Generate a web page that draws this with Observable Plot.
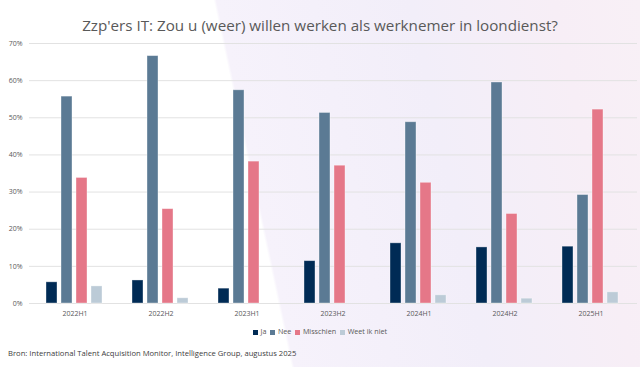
<!DOCTYPE html>
<html>
<head>
<meta charset="utf-8">
<script src="https://cdn.jsdelivr.net/npm/d3@7"></script>
<script src="https://cdn.jsdelivr.net/npm/@observablehq/plot@0.6"></script>
<style>
  html, body { margin: 0; padding: 0; }
  body {
    width: 640px; height: 367px; position: relative; overflow: hidden;
    background: linear-gradient(78deg, #ffffff 0%, #ffffff 40.6%, #f6f2fb 41%, #f2eef9 68%, #f7eef6 88%, #f8f0f6 100%);
    font-family: "Open Sans", sans-serif;
  }
  #title { position: absolute; top: 14px; left: 0; width: 640px; text-align: center;
    font-size: 15.2px; line-height: 22px; color: #595959; }
  #grid, #chart { position: absolute; top: 36px; left: 0; }
  #legend { position: absolute; top: 325px; left: 0; width: 640px; text-align: center;
    font-size: 7.2px; line-height: 12px; color: #595959; }
  #legend span.item { margin: 0 2px; }
  #legend span.sw { display: inline-block; width: 5px; height: 5px; margin-right: 2.5px; vertical-align: -0.5px; }
  #source { position: absolute; top: 347px; left: 8px; font-size: 7.65px; line-height: 12px; color: #404040; }
</style>
</head>
<body>
<div id="title">Zzp'ers IT: Zou u (weer) willen werken als werknemer in loondienst?</div>
<div id="grid"></div>
<div id="chart"></div>
<div id="legend"></div>
<div id="source">Bron: International Talent Acquisition Monitor, Intelligence Group, augustus 2025</div>
<script>
const periods = ["2022H1", "2022H2", "2023H1", "2023H2", "2024H1", "2024H2", "2025H1"];
const answers = ["Ja", "Nee", "Misschien", "Weet ik niet"];
const ja = [5.7, 6.2, 4.0, 11.4, 16.2, 15.1, 15.3];
const nee = [55.7, 66.6, 57.4, 51.3, 48.8, 59.5, 29.2];
const misschien = [33.8, 25.4, 38.2, 37.1, 32.5, 24.1, 52.2];
const weetIkNiet = [4.6, 1.4, null, null, 2.2, 1.3, 3.0];
const colors = ["#002b55", "#5b7a94", "#e57788", "#bccbd7"];
const yTicks = [0, 10, 20, 30, 40, 50, 60, 70];

const series = [ja, nee, misschien, weetIkNiet];
const data = periods.flatMap((p, i) =>
  answers.map((a, j) => ({ period: p, answer: a, value: series[j][i] }))
).filter(d => d.value != null);

const common = {
  width: 640,
  height: 286,
  marginTop: 7,
  marginBottom: 19,
  marginLeft: 29,
  marginRight: 3,
  style: { background: "transparent", fontFamily: "Open Sans, sans-serif", fontSize: "7px", color: "#595959" }
};

// gridlines + y axis (continuous across the whole plot width)
const grid = Plot.plot({
  ...common,
  y: { domain: [0, 70], ticks: yTicks, tickFormat: d => d + "%", tickSize: 0, tickPadding: 7, label: null },
  marks: [
    Plot.ruleY(yTicks, { stroke: "#e2e2e2", strokeWidth: 1 })
  ]
});
document.getElementById("grid").appendChild(grid);

// grouped bars
const chart = Plot.plot({
  ...common,
  fx: { domain: periods, paddingInner: 0.31, paddingOuter: 0.153, label: null, tickSize: 0, tickPadding: 8, axis: "bottom" },
  x: { domain: answers, paddingInner: 0.25, paddingOuter: 0, axis: null },
  y: { domain: [0, 70], axis: null },
  color: { domain: answers, range: colors },
  marks: [
    Plot.barY(data, { fx: "period", x: "answer", y: "value", fill: "answer", stroke: "#ffffff", strokeOpacity: 0.45, strokeWidth: 0.8 })
  ]
});
document.getElementById("chart").appendChild(chart);

const legend = document.getElementById("legend");
answers.forEach((a, i) => {
  const item = document.createElement("span");
  item.className = "item";
  const sw = document.createElement("span");
  sw.className = "sw";
  sw.style.background = colors[i];
  item.appendChild(sw);
  item.appendChild(document.createTextNode(a));
  legend.appendChild(item);
});
</script>
</body>
</html>
